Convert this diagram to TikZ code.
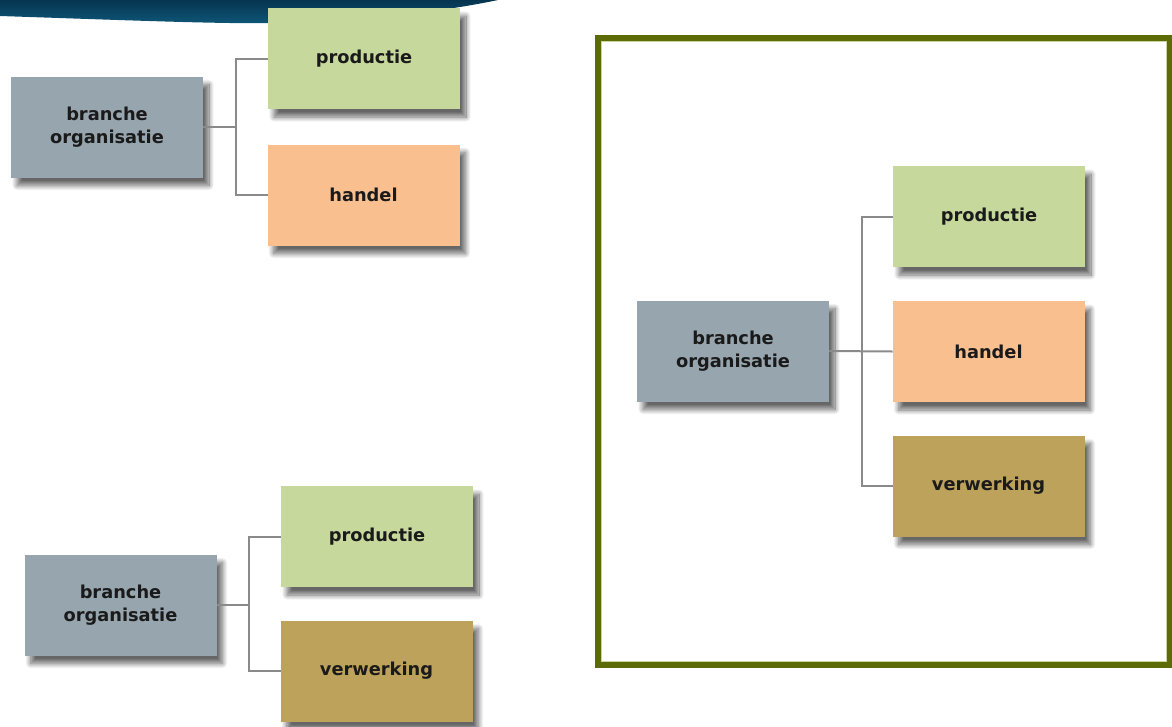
\documentclass[tikz,border=0pt]{standalone}
\usepackage{fontspec}
\setmainfont{DejaVu Sans}
\usetikzlibrary{shadows.blur}
\definecolor{bannerdark}{HTML}{063550}
\definecolor{bannerlight}{HTML}{0E5677}
\definecolor{framec}{HTML}{5C6B06}
\definecolor{frameinner}{HTML}{C9D79A}
\definecolor{brcol}{HTML}{97A5AE}
\definecolor{prcol}{HTML}{C6D89C}
\definecolor{hacol}{HTML}{F9BF8F}
\definecolor{vecol}{HTML}{BDA25C}
\definecolor{linec}{HTML}{8A8A8A}
\definecolor{txtc}{HTML}{1A1A1A}
\tikzset{
  orgbox/.style={minimum width=192pt, minimum height=101pt, inner sep=0pt, outer sep=0pt,
    align=center, text=txtc, font=\bfseries\fontsize{17.8}{22.7}\selectfont,
    blur shadow={shadow xshift=6pt, shadow yshift=-8pt, shadow opacity=60, shadow blur radius=5pt, shadow blur steps=14}},
  branchebox/.style={orgbox, fill=brcol},
  prodbox/.style={orgbox, fill=prcol},
  handelbox/.style={orgbox, fill=hacol},
  verwbox/.style={orgbox, fill=vecol},
  conn/.style={draw=linec, line width=2pt},
}
\begin{document}
\begin{tikzpicture}[x=1pt,y=-1pt]
\useasboundingbox (0,0) rectangle (1172,726);
% banner
\shade[top color=bannerdark, bottom color=bannerlight]
  (0,0) -- (0,16) .. controls (120,20) and (220,24) .. (268,23)
  .. controls (380,20) and (450,10) .. (498,0) -- cycle;
% frame
\draw[line width=6pt, framec] (597.5,38) rectangle (1169.5,664.5);
\draw[line width=0.8pt, frameinner] (601,41.5) rectangle (1166,661);

% top-left group
\node[branchebox] (b1) at (107,127) {branche\\organisatie};
\node[prodbox] (p1) at (364,58.5) {productie};
\node[handelbox] (h1) at (363.5,195) {handel};
\coordinate (j1) at (236,127);
\draw[conn] (b1.east) -- (j1);
\draw[conn] (j1) |- (p1.west);
\draw[conn] (j1) |- (h1.west);

% bottom-left group
\node[branchebox] (b2) at (120.5,605) {branche\\organisatie};
\node[prodbox] (p2) at (377,536.5) {productie};
\node[verwbox] (v2) at (376.5,671) {verwerking};
\coordinate (j2) at (249,605);
\draw[conn] (b2.east) -- (j2);
\draw[conn] (j2) |- (p2.west);
\draw[conn] (j2) |- (v2.west);

% right group
\node[branchebox] (b3) at (733,351) {branche\\organisatie};
\node[prodbox] (p3) at (989,216.5) {productie};
\node[handelbox] (h3) at (988.5,351.5) {handel};
\node[verwbox] (v3) at (988.5,486) {verwerking};
\coordinate (j3) at (861.5,351);
\draw[conn] (b3.east) -- (h3.west);
\draw[conn] (j3) |- (p3.west);
\draw[conn] (j3) |- (v3.west);
\end{tikzpicture}
\end{document}
